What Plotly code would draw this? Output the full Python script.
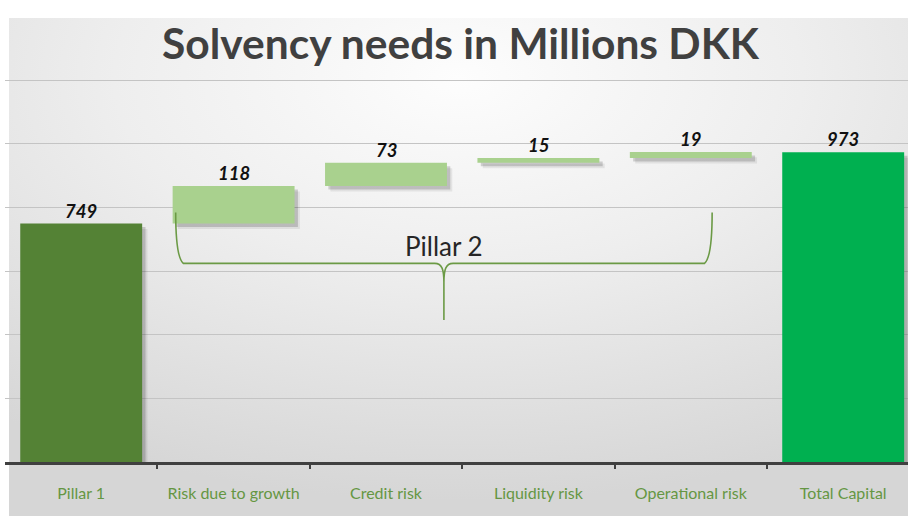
import base64
import plotly.graph_objects as go

# ---- data ----
categories = ["Pillar 1", "Risk due to growth", "Credit risk", "Liquidity risk",
              "Operational risk", "Total Capital"]
values = [749, 118, 73, 15, 19, 973]
measures = ["absolute", "relative", "relative", "relative", "relative", "total"]
colors = ["#548235", "#A9D18E", "#A9D18E", "#A9D18E", "#A9D18E", "#00B050"]
title_text = "Solvency needs in Millions DKK"
group_label = "Pillar 2"
grid_vals = [200, 400, 600, 800, 1000, 1200]

# ---- waterfall geometry from data ----
bases, heights, tops = [], [], []
running = 0
for v, m in zip(values, measures):
    if m == "absolute":
        b = 0
        running = v
    elif m == "relative":
        b = running
        running += v
    else:
        b = 0
    bases.append(b)
    heights.append(v)
    tops.append(b + v)

xs = list(range(len(categories)))

W, H = 908, 516
L, R, T, B = 5, 0, 76, 54
pw, ph = W - L - R, H - T - B
step_px = 152.4
xmax = pw / step_px - 0.5
ymax = 1200 + 4 / (382 / 1200)

fig = go.Figure()

# soft shadows
fig.add_trace(go.Bar(x=[x + 0.035 for x in xs], y=heights, base=[b - 17 for b in bases],
                     width=0.8, marker=dict(color="rgba(0,0,0,0.07)", line=dict(width=0)),
                     hoverinfo="skip"))
fig.add_trace(go.Bar(x=[x + 0.022 for x in xs], y=heights, base=[b - 11 for b in bases],
                     width=0.8, marker=dict(color="rgba(0,0,0,0.16)", line=dict(width=0)),
                     hoverinfo="skip"))
# bars
fig.add_trace(go.Bar(x=xs, y=heights, base=bases, width=0.8,
                     marker=dict(color=colors, line=dict(width=0)), hoverinfo="skip"))

# value labels
for x, v, t in zip(xs, values, tops):
    fig.add_annotation(x=x, y=t, xref="x", yref="y", text=str(v), showarrow=False,
                       yanchor="bottom", yshift=0,
                       font=dict(family="Lato", size=18.5, color="#111111",
                                 weight="bold", style="italic"))

# title
fig.add_annotation(x=(461 - L) / pw, y=(H - B - 43) / ph, xref="paper", yref="paper",
                   text=title_text, showarrow=False, xanchor="center", yanchor="middle",
                   font=dict(family="Lato", size=42.5, color="#404040", weight="bold"))

# Pillar 2 brace
xl, xr = 1 - 0.38, 4 + 0.14
xc = (xl + xr) / 2
ytop, yh, ytip = 784, 624, 446
path = (f"M {xl},{ytop} C {xl},{700} {xl+0.01},{640} {xl+0.05},{yh} "
        f"L {xc-0.06},{yh} C {xc-0.012},{yh} {xc},{yh-20} {xc},{yh-60} L {xc},{ytip} "
        f"M {xc},{yh-60} C {xc},{yh-20} {xc+0.012},{yh} {xc+0.06},{yh} "
        f"L {xr-0.05},{yh} C {xr-0.01},{640} {xr},{700} {xr},{ytop}")
fig.add_shape(type="path", path=path, xref="x", yref="y",
              line=dict(color="#6B9A45", width=1.6))
fig.add_annotation(x=xc, y=678, xref="x", yref="y", text=group_label, showarrow=False,
                   font=dict(family="Lato", size=26, color="#262626"))

# background gradient
svg = ('<svg xmlns="http://www.w3.org/2000/svg" width="900" height="500" '
       'preserveAspectRatio="none" viewBox="0 0 900 500">'
       '<defs><radialGradient id="g" cx="50%" cy="12%" r="85%" fx="50%" fy="12%">'
       '<stop offset="0%" stop-color="#fdfdfd"/>'
       '<stop offset="45%" stop-color="#eeeeee"/>'
       '<stop offset="100%" stop-color="#d6d6d6"/></radialGradient></defs>'
       '<rect width="900" height="500" fill="url(#g)"/></svg>')
src = "data:image/svg+xml;base64," + base64.b64encode(svg.encode()).decode()
fig.add_layout_image(source=src, xref="paper", yref="paper",
                     x=(9 - L) / pw, y=(H - B - 18) / ph,
                     sizex=(W - 9) / pw, sizey=(H - 18) / ph,
                     xanchor="left", yanchor="top", sizing="stretch", layer="below")

fig.update_layout(
    width=W, height=H, margin=dict(l=L, r=R, t=T, b=B),
    paper_bgcolor="white", plot_bgcolor="rgba(0,0,0,0)",
    barmode="overlay", showlegend=False, hovermode=False,
    xaxis=dict(range=[-0.5, xmax], tickmode="array", tickvals=xs, ticktext=categories,
               ticks="", showgrid=False, zeroline=False, showline=True,
               linecolor="#404040", linewidth=2.5, fixedrange=True,
               tickfont=dict(family="Lato", size=16, color="#659643"),
               ticklabelstandoff=15),
    xaxis2=dict(range=[-0.5, xmax], overlaying="x", anchor="y", side="bottom",
                tickmode="array", tickvals=[x + 0.5 for x in xs[:-1]],
                ticks="outside", ticklen=6, tickwidth=2, tickcolor="#404040",
                showticklabels=False, showgrid=False, zeroline=False, showline=False),
    yaxis=dict(range=[0, ymax], tickmode="array", tickvals=grid_vals,
               showgrid=True, gridcolor="#C4C4C4",
               gridwidth=1, showticklabels=False, zeroline=False, showline=False,
               fixedrange=True),
)
# dummy trace to activate xaxis2
fig.add_trace(go.Scatter(x=[0], y=[0], xaxis="x2", mode="markers",
                         marker=dict(opacity=0), hoverinfo="skip"))

fig.write_html("out.html")
